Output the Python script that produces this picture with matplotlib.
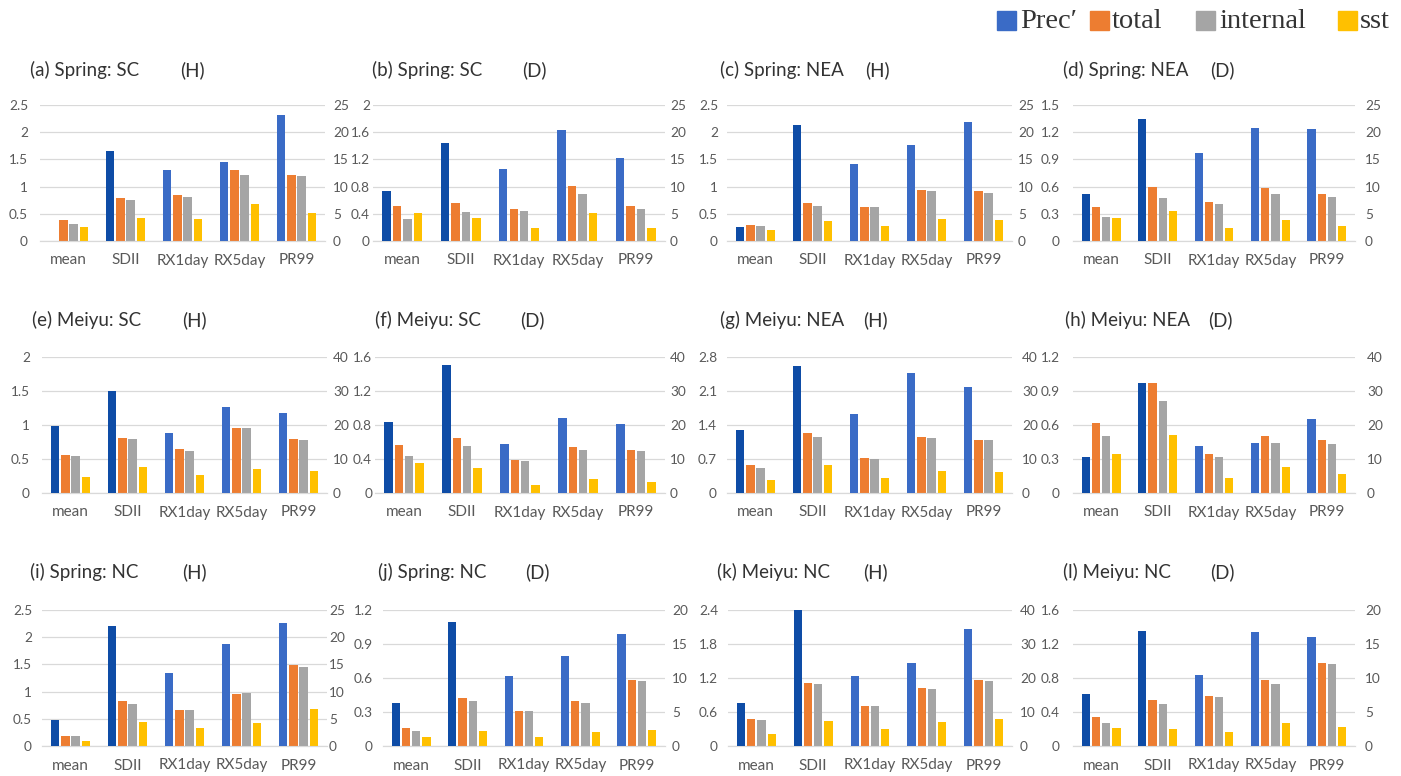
import matplotlib
matplotlib.use("Agg")
import matplotlib.pyplot as plt
from matplotlib.patches import Rectangle
import numpy as np

plt.rcParams['font.family'] = ['Lato', 'DejaVu Sans']

categories = ["mean", "SDII", "RX1day", "RX5day", "PR99"]
series_names = ["Prec\u2032", "total", "internal", "sst"]

panel_titles = ["(a) Spring: SC", "(b) Spring: SC", "(c) Spring: NEA", "(d) Spring: NEA",
                "(e) Meiyu: SC", "(f) Meiyu: SC", "(g) Meiyu: NEA", "(h) Meiyu: NEA",
                "(i) Spring: NC", "(j) Spring: NC", "(k) Meiyu: NC", "(l) Meiyu: NC"]
panel_tags = ["(H)", "(D)", "(H)", "(D)",
              "(H)", "(D)", "(H)", "(D)",
              "(H)", "(D)", "(H)", "(D)"]

# Prec' (percent, right axis)
prec = [
    [0.0, 16.5, 13.0, 14.5, 23.1],
    [9.2, 18.0, 13.2, 20.4, 15.3],
    [2.6, 21.3, 14.1, 17.7, 21.9],
    [8.7, 22.4, 16.2, 20.7, 20.6],
    [19.7, 30.0, 17.6, 25.4, 23.6],
    [20.9, 37.5, 14.5, 22.0, 20.3],
    [18.4, 37.4, 23.1, 35.3, 31.1],
    [10.7, 32.3, 13.7, 14.7, 21.7],
    [4.7, 22.0, 13.4, 18.7, 22.6],
    [6.3, 18.3, 10.3, 13.2, 16.5],
    [12.7, 40.0, 20.5, 24.3, 34.3],
    [7.6, 16.9, 10.5, 16.8, 16.0],
]
# total, internal and sst spread (left axis)
total = [
    [0.39, 0.79, 0.85, 1.30, 1.21],
    [0.515, 0.56, 0.47, 0.81, 0.51],
    [0.30, 0.70, 0.63, 0.93, 0.91],
    [0.38, 0.595, 0.434, 0.58, 0.518],
    [0.554, 0.81, 0.65, 0.95, 0.80],
    [0.57, 0.65, 0.39, 0.545, 0.51],
    [0.576, 1.24, 0.73, 1.15, 1.10],
    [0.615, 0.97, 0.345, 0.50, 0.47],
    [0.19, 0.82, 0.67, 0.95, 1.48],
    [0.157, 0.42, 0.31, 0.40, 0.58],
    [0.48, 1.11, 0.71, 1.03, 1.17],
    [0.34, 0.54, 0.59, 0.78, 0.98],
]
internal = [
    [0.31, 0.75, 0.81, 1.21, 1.20],
    [0.32, 0.43, 0.44, 0.69, 0.47],
    [0.27, 0.65, 0.62, 0.91, 0.89],
    [0.265, 0.478, 0.404, 0.518, 0.485],
    [0.544, 0.79, 0.62, 0.95, 0.775],
    [0.43, 0.55, 0.38, 0.51, 0.49],
    [0.52, 1.16, 0.71, 1.13, 1.10],
    [0.50, 0.81, 0.32, 0.44, 0.43],
    [0.19, 0.78, 0.67, 0.97, 1.45],
    [0.136, 0.40, 0.31, 0.38, 0.57],
    [0.46, 1.09, 0.71, 1.01, 1.15],
    [0.275, 0.495, 0.58, 0.735, 0.97],
]
sst = [
    [0.26, 0.42, 0.40, 0.68, 0.51],
    [0.41, 0.34, 0.19, 0.41, 0.19],
    [0.20, 0.36, 0.28, 0.40, 0.38],
    [0.257, 0.33, 0.147, 0.228, 0.165],
    [0.235, 0.38, 0.26, 0.36, 0.33],
    [0.35, 0.30, 0.10, 0.17, 0.13],
    [0.27, 0.576, 0.30, 0.45, 0.44],
    [0.345, 0.51, 0.13, 0.23, 0.17],
    [0.086, 0.44, 0.33, 0.42, 0.68],
    [0.077, 0.136, 0.08, 0.12, 0.14],
    [0.22, 0.45, 0.30, 0.42, 0.48],
    [0.21, 0.20, 0.16, 0.275, 0.22],
]
# axis ranges
left_max = [2.5, 2.0, 2.5, 1.5, 2.0, 1.6, 2.8, 1.2, 2.5, 1.2, 2.4, 1.6]
left_step = [0.5, 0.4, 0.5, 0.3, 0.5, 0.4, 0.7, 0.3, 0.5, 0.3, 0.6, 0.4]
right_max = [25, 25, 25, 25, 40, 40, 40, 40, 25, 20, 40, 20]
right_step = [5, 5, 5, 5, 10, 10, 10, 10, 5, 5, 10, 5]

BLUE_DARK = "#0E4CA6"
BLUE = "#3A6BC6"
ORANGE = "#ED7D31"
GRAY = "#A5A5A5"
YELLOW = "#FFC000"
TICK_COLOR = "#595959"
GRID_COLOR = "#D9D9D9"
TEXT_COLOR = "#333333"

W, H = 1401, 776
fig = plt.figure(figsize=(W / 100, H / 100), dpi=100)

# panel geometry in pixels
col_left = [[40, 373, 727, 1073], [42, 375, 727, 1073], [42, 383, 728, 1073]]
col_right = [[325, 665, 1012, 1355], [327, 665, 1012, 1355], [327, 665, 1012, 1355]]
row_top = [105, 357, 610]
row_bottom = [241, 493, 746]
left_pad = [[12, 3, 9, 13], [12, 3, 10, 13], [10, 10, 10, 13]]
right_pad = [[8, 5, 6, 10], [6, 5, 10, 12], [2, 7, 8, 10]]
title_x = [[30, 372, 720, 1063], [32, 375, 720, 1065], [30, 378, 717, 1063]]
tag_x = [[180, 522, 865, 1210], [182, 520, 863, 1208], [182, 525, 863, 1210]]
title_y = [70, 320, 572]
PT = 0.72  # points per pixel at 100 dpi


def fmt(v):
    return f"{round(v, 6):g}"


x = np.arange(len(categories))
bw = 0.145
step = 0.18
offs = [-1.5 * step, -0.5 * step, 0.5 * step, 1.5 * step]

for k in range(12):
    r, c = divmod(k, 4)
    l, rr = col_left[r][c], col_right[r][c]
    t, b = row_top[r], row_bottom[r]
    ax = fig.add_axes([l / W, 1 - b / H, (rr - l) / W, (b - t) / H])
    ax2 = ax.twinx()

    ax.bar(x + offs[1], total[k], bw, color=ORANGE, zorder=3)
    ax.bar(x + offs[2], internal[k], bw, color=GRAY, zorder=3)
    ax.bar(x + offs[3], sst[k], bw, color=YELLOW, zorder=3)
    blue_cols = [BLUE_DARK, BLUE_DARK, BLUE, BLUE, BLUE]
    ax2.bar(x + offs[0], prec[k], bw, color=blue_cols, zorder=3)

    ax.set_xlim(-0.5, len(categories) - 0.5)
    ax.set_ylim(0, left_max[k])
    ax2.set_ylim(0, right_max[k])
    lt = np.arange(0, left_max[k] + 1e-9, left_step[k])
    rt = np.arange(0, right_max[k] + 1e-9, right_step[k])
    ax.set_yticks(lt)
    ax.set_yticklabels([fmt(v) for v in lt])
    ax2.set_yticks(rt)
    ax2.set_yticklabels([fmt(v) for v in rt])

    ax.set_xticks(x)
    ax.set_xticklabels(categories)
    ax.yaxis.grid(True, color=GRID_COLOR, lw=0.9, zorder=0)
    ax.set_axisbelow(True)
    for a in (ax, ax2):
        for s in ("top", "left", "right"):
            a.spines[s].set_visible(False)
        a.spines["bottom"].set_color(GRID_COLOR)
        a.tick_params(length=0, labelsize=9.8, colors=TICK_COLOR)
    ax.tick_params(axis="y", pad=left_pad[r][c] * PT)
    ax2.tick_params(axis="y", pad=right_pad[r][c] * PT)
    ax.tick_params(axis="x", pad=9, labelsize=11)

    fig.text(title_x[r][c] / W, 1 - title_y[r] / H, panel_titles[k],
             fontsize=13.5, color=TEXT_COLOR, va="center", ha="left")
    fig.text(tag_x[r][c] / W, 1 - title_y[r] / H, panel_tags[k],
             fontsize=13.5, color=TEXT_COLOR, va="center", ha="left")

# legend across the top right
legend_colors = [BLUE, ORANGE, GRAY, YELLOW]
box_x = [997, 1090, 1196, 1338]
text_x = [1020, 1112, 1219, 1360]
box = 19
for name, col, bx, tx in zip(series_names, legend_colors, box_x, text_x):
    fig.add_artist(Rectangle((bx / W, 1 - 30 / H), box / W, box / H,
                             transform=fig.transFigure, color=col))
    fig.text(tx / W, 1 - 21 / H, name, fontsize=20.5, color=TEXT_COLOR,
             va="center", ha="left", family=["Liberation Serif", "DejaVu Serif"])

fig.savefig("out.png", dpi=100)
